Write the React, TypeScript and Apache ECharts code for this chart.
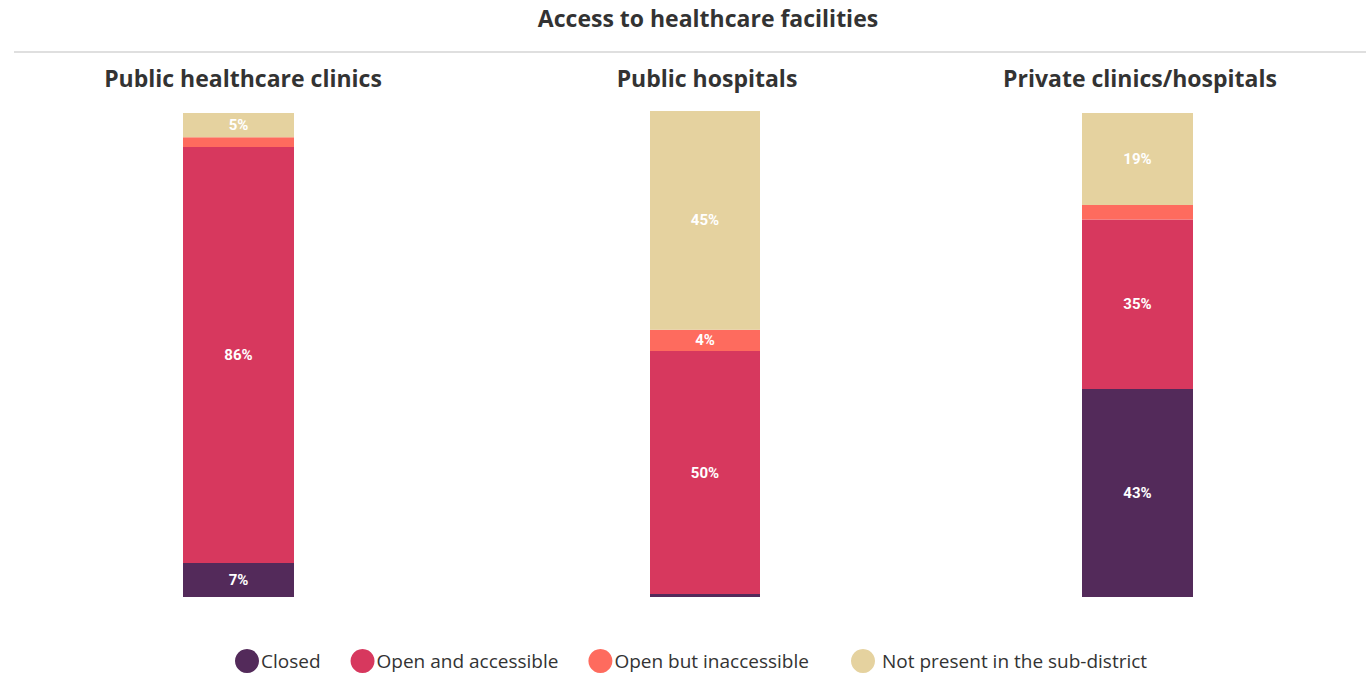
import React, { useEffect, useRef } from "react";
import * as echarts from "echarts";

const chartTitle = "Access to healthcare facilities";
const panels = ["Public healthcare clinics", "Public hospitals", "Private clinics/hospitals"];
const statusNames = ["Closed", "Open and accessible", "Open but inaccessible", "Not present in the sub-district"];
const statusColors = ["#532A5A", "#D7385E", "#FE6B5E", "#E5D29F"];

// values per panel (percent), order matches statusNames
const closedValues = [7, 0.6, 43];
const openAccessibleValues = [86, 50, 35];
const openInaccessibleValues = [2, 4.4, 3];
const notPresentValues = [5, 45, 19];

const seriesValues = [closedValues, openAccessibleValues, openInaccessibleValues, notPresentValues];

export default function App() {
  const ref = useRef<HTMLDivElement>(null);
  useEffect(() => {
    if (!ref.current) return;
    const chart = echarts.init(ref.current, null, { renderer: "svg" });
    const gridLayout = [
      { left: 183, width: 111, top: 113, height: 484 },
      { left: 650, width: 110, top: 111, height: 486 },
      { left: 1082, width: 111, top: 113, height: 484 },
    ];
    const panelCenters = [243, 707, 1140];
    const grids = gridLayout.map((g) => ({ ...g, containLabel: false }));
    const xAxes = panels.map((p, i) => ({
      type: "category",
      gridIndex: i,
      data: [p],
      show: false,
    }));
    const yAxes = panels.map((_, i) => ({
      type: "value",
      gridIndex: i,
      min: 0,
      max: 100,
      show: false,
    }));
    const series: any[] = [];
    panels.forEach((_, pi) => {
      statusNames.forEach((name, si) => {
        series.push({
          name,
          type: "bar",
          stack: "s" + pi,
          xAxisIndex: pi,
          yAxisIndex: pi,
          barWidth: "100%",
          data: [seriesValues[si][pi]],
          itemStyle: { color: statusColors[si] },
          label: {
            show: true,
            position: "inside",
            color: "#ffffff",
            fontWeight: "bold",
            fontSize: 15,
            fontFamily: "Roboto",
            formatter: (p: any) => (p.value >= 4 ? Math.round(p.value) + "%" : ""),
          },
        });
      });
    });
    const legendBase = {
      top: 644,
      icon: "circle",
      itemWidth: 24,
      itemHeight: 24,
      itemGap: 30,
      selectedMode: false,
    };
    chart.setOption({
      animation: false,
      backgroundColor: "#ffffff",
      grid: grids,
      xAxis: xAxes,
      yAxis: yAxes,
      legend: [
        {
          ...legendBase,
          data: statusNames.slice(0, 3),
          left: 230,
          textStyle: { fontSize: 19, color: "#333333", fontFamily: "Open Sans", padding: [0, 0, 0, -3] },
        },
        {
          ...legendBase,
          data: statusNames.slice(3),
          left: 846,
          textStyle: { fontSize: 19, color: "#333333", fontFamily: "Open Sans", padding: [0, 0, 0, 2] },
        },
      ],
      graphic: [
        {
          type: "text",
          x: 708,
          y: 18,
          style: {
            text: chartTitle,
            fill: "#333333",
            fontSize: 23,
            fontWeight: "bold",
            fontFamily: "Open Sans",
            align: "center",
            verticalAlign: "middle",
          },
        },
        {
          type: "line",
          shape: { x1: 14, y1: 52, x2: 1366, y2: 52 },
          style: { stroke: "#d4d4d4", lineWidth: 1.5 },
        },
        ...panels.map((p, i) => ({
          type: "text",
          x: panelCenters[i],
          y: 78,
          style: {
            text: p,
            fill: "#333333",
            fontSize: 23,
            fontWeight: "bold",
            fontFamily: "Open Sans",
            align: "center",
            verticalAlign: "middle",
          },
        })),
      ],
      series,
    });
    return () => chart.dispose();
  }, []);
  return (
    <div
      ref={ref}
      style={{ position: "absolute", left: 0, top: 0, width: 1366, height: 674 }}
    />
  );
}
